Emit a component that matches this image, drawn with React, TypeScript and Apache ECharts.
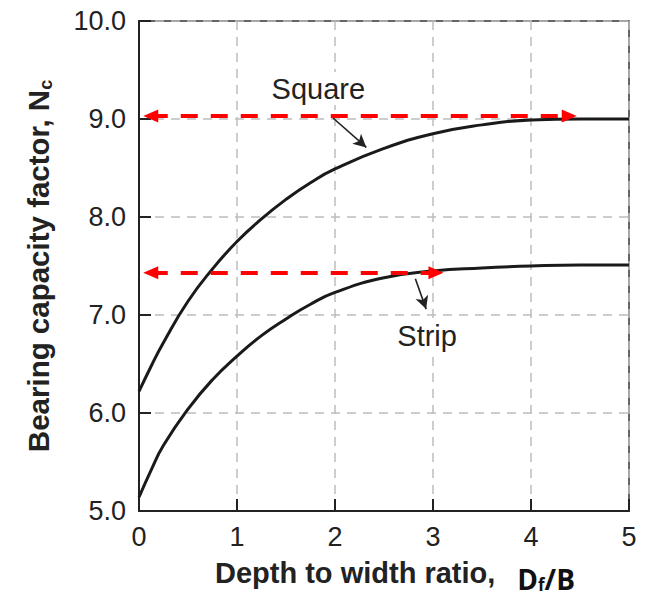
import React, { useEffect, useRef } from "react";
import * as echarts from "echarts";

// Depth-to-width ratio (Df/B) and bearing capacity factor Nc
const squareRatio = [0, 0.125, 0.25, 0.5, 0.75, 1.0, 1.25, 1.5, 1.75, 2.0, 2.5, 3.0, 3.5, 4.0, 4.5, 5.0];
const squareNc = [6.22, 6.48, 6.72, 7.14, 7.47, 7.75, 7.98, 8.18, 8.35, 8.49, 8.7, 8.85, 8.94, 8.99, 9.0, 9.0];
const stripRatio = [0, 0.125, 0.25, 0.5, 0.75, 1.0, 1.25, 1.5, 1.75, 2.0, 2.5, 3.0, 3.5, 4.0, 4.5, 5.0];
const stripNc = [5.14, 5.42, 5.67, 6.04, 6.34, 6.58, 6.79, 6.96, 7.11, 7.23, 7.38, 7.45, 7.48, 7.5, 7.51, 7.51];

// Axis ranges / ticks
const xMin = 0;
const xMax = 5;
const yMin = 5;
const yMax = 10;

// Red limit arrows: [fromRatio, toRatio, Nc]
const squareLimit = [0.12, 4.39, 9.03];
const stripLimit = [0.12, 3.03, 7.43];

// Curve labels: [name, ratio, Nc]
const curveLabels: [string, number, number][] = [
  ["Square", 1.83, 9.31],
  ["Strip", 2.94, 6.79],
];
// Pointer arrows from label to curve: [fromRatio, fromNc, toRatio, toNc]
const pointers = [
  [1.98, 9.01, 2.32, 8.71],
  [2.82, 7.37, 2.93, 7.06],
];

const TXT = "#222";
const FONT = "'Liberation Sans', Arial, Helvetica, sans-serif";

export default function App() {
  const ref = useRef<HTMLDivElement>(null);
  useEffect(() => {
    document.body.style.margin = "0";
    const chart = echarts.init(ref.current!, null, { renderer: "svg" });
    const redLine = (lim: number[]) => ({
      silent: true,
      symbol: ["triangle", "triangle"],
      symbolSize: [13, 15],
      label: { show: false },
      lineStyle: { color: "#ff0000", width: 4, type: [17, 13], opacity: 1 },
      emphasis: { disabled: true },
      data: [[{ coord: [lim[0], lim[2]] }, { coord: [lim[1], lim[2]] }]],
    });
    const option: any = {
      animation: false,
      backgroundColor: "#fff",
      grid: {
        left: 139,
        right: 17,
        top: 21,
        bottom: 86,
        show: true,
        borderColor: "#333",
        borderWidth: 1.5,
        containLabel: false,
        outerBoundsMode: "none",
      },
      xAxis: {
        type: "value",
        min: xMin,
        max: xMax,
        interval: 1,
        axisLine: { show: true, onZero: false, lineStyle: { color: "#222", width: 2 } },
        axisTick: { show: true, inside: true, length: 12, lineStyle: { color: "#222", width: 2 } },
        axisLabel: { fontSize: 27, color: TXT, fontFamily: FONT, margin: 12 },
        splitLine: { show: true, lineStyle: { color: "#bdbdbd", width: 1.5, type: [9, 7] } },
        name: "{a|Depth to width ratio,}{d|D}{f|f}{e|/B}",
        nameLocation: "middle",
        nameGap: 42,
        nameTextStyle: {
          rich: {
            a: {
              fontSize: 29,
              fontWeight: "bold",
              fontFamily: FONT,
              color: TXT,
              lineHeight: 40,
              padding: [0, 0, 0, 22],
            },
            d: {
              fontSize: 28,
              fontWeight: "bold",
              fontFamily: "'Open Sans', sans-serif",
              color: "#111",
              lineHeight: 40,
              verticalAlign: "bottom",
              padding: [0, 0, 0, 22],
            },
            f: {
              fontSize: 17,
              fontWeight: "bold",
              fontFamily: "'Open Sans', sans-serif",
              color: "#111",
              lineHeight: 40,
              verticalAlign: "bottom",
            },
            e: {
              fontSize: 28,
              fontWeight: "bold",
              fontFamily: "'Open Sans', sans-serif",
              color: "#111",
              lineHeight: 40,
              verticalAlign: "bottom",
            },
          },
        },
      },
      yAxis: {
        type: "value",
        min: yMin,
        max: yMax,
        interval: 1,
        axisLine: { show: true, onZero: false, lineStyle: { color: "#222", width: 2 } },
        axisTick: { show: true, inside: true, length: 12, lineStyle: { color: "#222", width: 2 } },
        axisLabel: {
          fontSize: 27,
          color: TXT,
          fontFamily: FONT,
          margin: 13,
          formatter: (v: number) => v.toFixed(1),
        },
        splitLine: { show: true, lineStyle: { color: "#bdbdbd", width: 1.5, type: [9, 7] } },
        name: "{a|Bearing capacity factor, N}{b|c}",
        nameLocation: "middle",
        nameGap: 84,
        nameTextStyle: {
          rich: {
            a: { fontSize: 29.5, fontWeight: "bold", fontFamily: FONT, color: TXT, lineHeight: 34 },
            b: {
              fontSize: 18,
              fontWeight: "bold",
              fontFamily: FONT,
              color: TXT,
              lineHeight: 34,
              verticalAlign: "bottom",
            },
          },
        },
      },
      series: [
        {
          name: "Square",
          type: "line",
          data: squareRatio.map((x, i) => [x, squareNc[i]]),
          smooth: 0.5,
          showSymbol: false,
          lineStyle: { color: "#1a1a1a", width: 3 },
          z: 3,
          markLine: redLine(squareLimit),
        },
        {
          name: "Strip",
          type: "line",
          data: stripRatio.map((x, i) => [x, stripNc[i]]),
          smooth: 0.5,
          showSymbol: false,
          lineStyle: { color: "#1a1a1a", width: 3 },
          z: 3,
          markLine: redLine(stripLimit),
        },
        {
          name: "annotations",
          type: "line",
          data: [],
          z: 4,
          markLine: {
            silent: true,
            symbol: ["none", "arrow"],
            symbolSize: [10, 13],
            label: { show: false },
            lineStyle: { color: "#222", width: 1.6, type: "solid", opacity: 1 },
            emphasis: { disabled: true },
            data: pointers.map((p) => [{ coord: [p[0], p[1]] }, { coord: [p[2], p[3]] }]),
          },
          markPoint: {
            silent: true,
            symbol: "circle",
            symbolSize: 0,
            itemStyle: { color: "transparent" },
            label: {
              show: true,
              position: "inside",
              formatter: "{b}",
              fontSize: 29,
              color: TXT,
              fontFamily: FONT,
              backgroundColor: "#fff",
            },
            data: curveLabels.map(([n, x, y]) => ({
              name: n,
              coord: [x, y],
              label: { padding: n === "Strip" ? [2, 22] : [2, 4] },
            })),
          },
        },
      ],
    };
    chart.setOption(option);
    return () => chart.dispose();
  }, []);
  return <div ref={ref} style={{ width: 646, height: 597, background: "#fff" }} />;
}
